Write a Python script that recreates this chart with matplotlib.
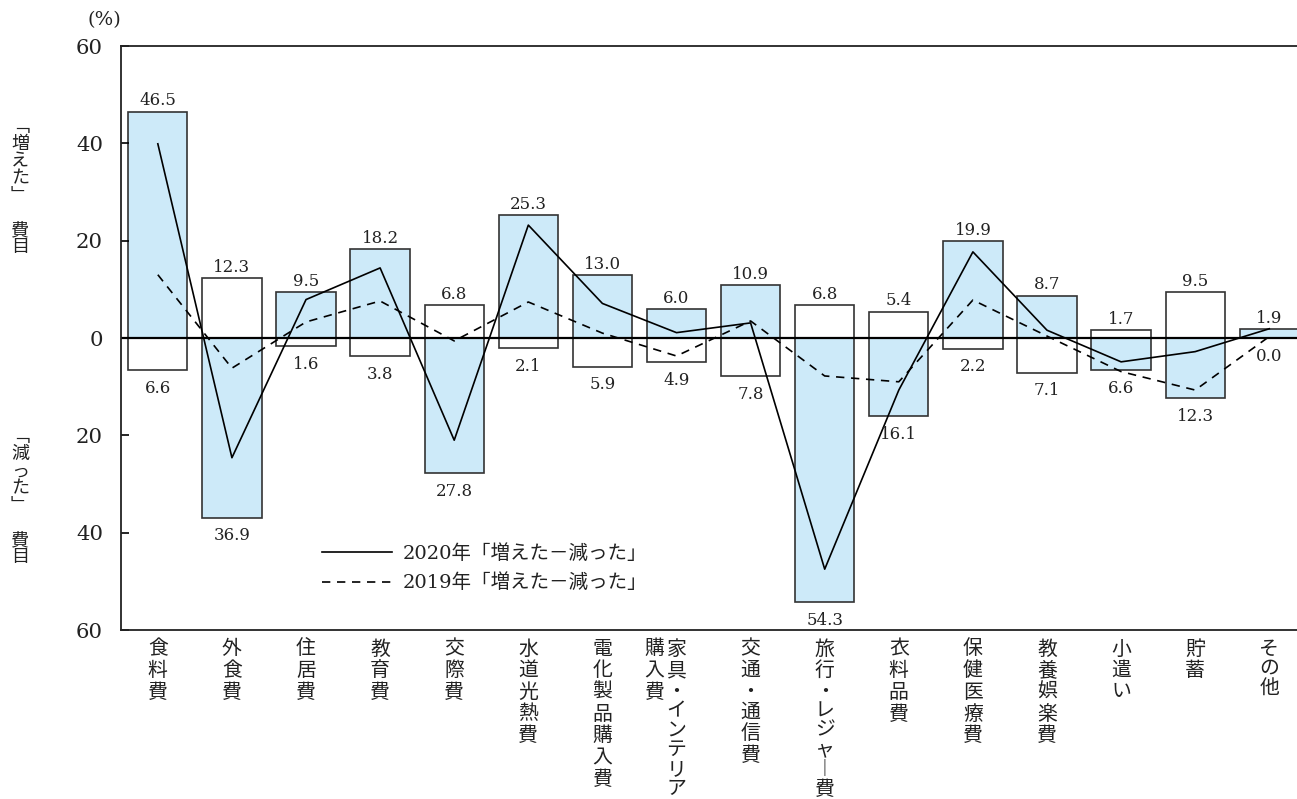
import matplotlib
matplotlib.use("Agg")
import matplotlib.pyplot as plt
import matplotlib.transforms as mtransforms
from matplotlib.lines import Line2D

plt.rcParams['font.family'] = ['DejaVu Serif', 'Noto Sans CJK JP']

### data: share of households reporting each spending item went up / down (%)
categories = ["食料費", "外食費", "住居費", "教育費", "交際費", "水道光熱費",
              "電化製品購入費", "家具・インテリア\n購入費", "交通・通信費",
              "旅行・レジャー費", "衣料品費", "保健医療費", "教養娯楽費",
              "小遣い", "貯蓄", "その他"]
increased = [46.5, 12.3, 9.5, 18.2, 6.8, 25.3, 13.0, 6.0, 10.9, 6.8, 5.4, 19.9, 8.7, 1.7, 9.5, 1.9]
decreased = [6.6, 36.9, 1.6, 3.8, 27.8, 2.1, 5.9, 4.9, 7.8, 54.3, 16.1, 2.2, 7.1, 6.6, 12.3, 0.0]
# 2019 net balance ("increased - decreased")
net_2019 = [13.0, -6.2, 3.3, 7.6, -0.6, 7.4, 1.0, -3.7, 3.5, -7.8, -9.0, 7.8, 0.4, -6.9, -10.7, 0.3]
yticks = [-60, -40, -20, 0, 20, 40, 60]

BLUE = "#cdeaf9"
EDGE = "#333333"
TEXT = "#222222"
CJK = "Noto Sans CJK JP"
VERTICAL_FORMS = {"ー": "︱", "「": "﹁", "」": "﹂"}

W, H = 1297, 799
fig = plt.figure(figsize=(W / 100, H / 100), dpi=100)
ax = fig.add_axes([121 / W, 1 - 630 / H, 1 - 121 / W, (630 - 46) / H])

x = list(range(len(categories)))
net_2020 = [round(u - d, 1) for u, d in zip(increased, decreased)]

### bars: the larger of the two sides is shaded
for i in x:
    up, down = increased[i], decreased[i]
    ax.bar(i, up, width=0.8, color=BLUE if up >= down else "white",
           edgecolor=EDGE, linewidth=1.2, zorder=1)
    if down > 0:
        ax.bar(i, -down, width=0.8, color=BLUE if down > up else "white",
               edgecolor=EDGE, linewidth=1.2, zorder=1)
    ax.annotate(f"{up:.1f}", (i, up), xytext=(0, 1.6), textcoords="offset points",
                ha="center", va="bottom", fontsize=12, color=TEXT, zorder=5)
    ax.annotate(f"{down:.1f}", (i, -down), xytext=(0, -7), textcoords="offset points",
                ha="center", va="top", fontsize=12, color=TEXT, zorder=5)

ax.axhline(0, color="black", linewidth=1.6, zorder=2)

### net balance lines
ax.plot(x, net_2020, color="black", linewidth=1.2, zorder=3)
ax.plot(x, net_2019, color="black", linewidth=1.2, linestyle=(0, (5, 4)), zorder=3)

ax.set_xlim(-0.497, 15.374)
ax.set_ylim(-60, 60)
ax.set_yticks(yticks)
ax.set_yticklabels([str(abs(t)) for t in yticks], fontsize=15.3, color=TEXT)
ax.tick_params(axis="y", direction="in", length=6, width=1.2, pad=13)
ax.set_xticks([])
for side in ("left", "top", "bottom"):
    ax.spines[side].set_linewidth(1.3)
    ax.spines[side].set_color("#222222")
ax.spines["right"].set_visible(False)

### legend
handles = [Line2D([], [], color="black", linewidth=1.2),
           Line2D([], [], color="black", linewidth=1.2, linestyle=(0, (5, 4)))]
labels = ["2020年「増えた－減った」", "2019年「増えた－減った」"]
ax.legend(handles, labels, loc="upper left", bbox_to_anchor=(0.171, 0.147),
          frameon=False, fontsize=14, handlelength=3.6, handletextpad=0.55,
          labelspacing=0.55, borderpad=0, borderaxespad=0, labelcolor=TEXT)


def char_step(ch):
    # ideographs take a full pitch, kana and punctuation a slightly shorter one
    return 21.7 if "\u4e00" <= ch <= "\u9fff" else 19.5


def vertical_text(xpos, ytop, text, size, transform, col_gap=22):
    """Stack characters top to bottom; a newline starts a new column to the left."""
    for j, col in enumerate(text.split("\n")):
        shift = mtransforms.ScaledTranslation(-j * col_gap / 100, 0, fig.dpi_scale_trans)
        y = ytop
        prev = None
        for ch in col:
            if prev is not None:
                y += (char_step(prev) + char_step(ch)) / 2
            prev = ch
            fig.text(xpos, 1 - y / H, VERTICAL_FORMS.get(ch, ch),
                     transform=transform + shift, ha="center", va="center",
                     fontsize=size, family=CJK, color=TEXT)


cat_trans = mtransforms.blended_transform_factory(ax.transData, fig.transFigure)
for i, name in enumerate(categories):
    vertical_text(i, 649, name, 14.3, cat_trans)

### side captions for the upper and lower halves, one stacked text each
for caption, ytop in (("「増えた」 費目", 118), ("「減った」 費目", 428)):
    stacked = "\n".join(VERTICAL_FORMS.get(ch, ch) for ch in caption)
    fig.text(20 / W, 1 - ytop / H, stacked, ha="center", va="top", fontsize=13,
             family=CJK, color=TEXT, linespacing=0.94)

fig.text(104 / W, 1 - 20 / H, "(%)", ha="center", va="center", fontsize=14, color=TEXT)

fig.savefig("out.png", dpi=100)
